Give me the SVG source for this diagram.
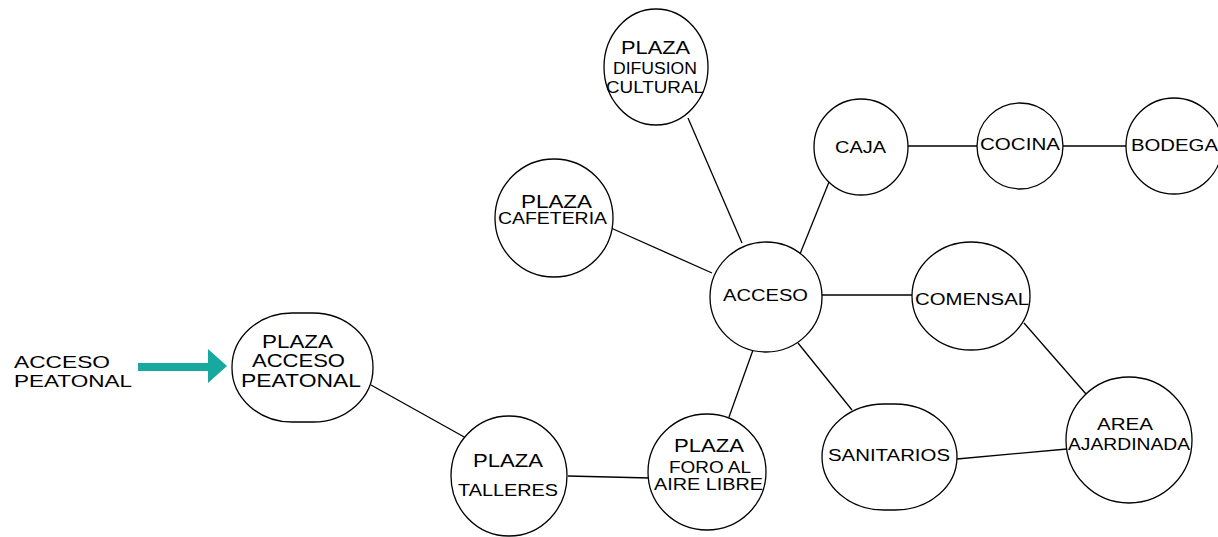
<svg xmlns="http://www.w3.org/2000/svg" width="1218" height="537" viewBox="0 0 1218 537">
<style>
.n{fill:#fff;stroke:#000;stroke-width:1.3}
.c line{stroke:#000;stroke-width:1.3}
text{font-family:"Liberation Sans",Arial,sans-serif;fill:#000;font-size:16px}
.b{font-size:18px}
</style>
<rect width="1218" height="537" fill="#fff"/>
<g class="c" id="connectors">
<line x1="688" y1="118" x2="742" y2="243"/>
<line x1="611" y1="228" x2="712" y2="273"/>
<line x1="829" y1="182" x2="800" y2="254"/>
<line x1="908" y1="146" x2="978" y2="146"/>
<line x1="1063" y1="146" x2="1126" y2="146"/>
<line x1="822" y1="295" x2="912" y2="295"/>
<line x1="1024" y1="323" x2="1086" y2="394"/>
<line x1="798" y1="343" x2="852" y2="410"/>
<line x1="957" y1="459" x2="1067" y2="449"/>
<line x1="753" y1="350" x2="729" y2="417"/>
<line x1="568" y1="476" x2="650" y2="478"/>
<line x1="371" y1="385" x2="466" y2="438"/>
</g>
<g id="acceso-peatonal-label">
<text x="14" y="368" textLength="96" lengthAdjust="spacingAndGlyphs" style="font-size:17px">ACCESO</text>
<text x="14" y="387" textLength="118" lengthAdjust="spacingAndGlyphs" style="font-size:17px">PEATONAL</text>
<path d="M138 363 H208 V349 L227 366 L208 383 V371 H138 Z" fill="#17a8a0"/>
</g>
<g id="plaza-acceso-peatonal">
<rect class="n" x="232" y="313" width="141" height="109" rx="60" ry="54"/>
<text class="b" x="262" y="348" textLength="71" lengthAdjust="spacingAndGlyphs">PLAZA</text>
<text class="b" x="252" y="367" textLength="93" lengthAdjust="spacingAndGlyphs">ACCESO</text>
<text class="b" x="241" y="387" textLength="120" lengthAdjust="spacingAndGlyphs">PEATONAL</text>
</g>
<g id="plaza-difusion">
<ellipse class="n" cx="656" cy="67" rx="52" ry="58"/>
<text class="b" x="621" y="54" textLength="69" lengthAdjust="spacingAndGlyphs">PLAZA</text>
<text x="613" y="74" textLength="84" lengthAdjust="spacingAndGlyphs">DIFUSION</text>
<text x="606" y="93" textLength="98" lengthAdjust="spacingAndGlyphs">CULTURAL</text>
</g>
<g id="plaza-cafeteria">
<ellipse class="n" cx="554" cy="218" rx="59" ry="59"/>
<text class="b" x="521" y="208" textLength="71" lengthAdjust="spacingAndGlyphs">PLAZA</text>
<text x="498" y="224" textLength="109" lengthAdjust="spacingAndGlyphs">CAFETERIA</text>
</g>
<g id="acceso">
<ellipse class="n" cx="766" cy="297" rx="56" ry="55"/>
<text x="723" y="301" textLength="85" lengthAdjust="spacingAndGlyphs">ACCESO</text>
</g>
<g id="caja">
<ellipse class="n" cx="861" cy="147" rx="47" ry="48"/>
<text x="835" y="153" textLength="51" lengthAdjust="spacingAndGlyphs">CAJA</text>
</g>
<g id="cocina">
<ellipse class="n" cx="1020" cy="146" rx="43" ry="43"/>
<text x="980" y="150" textLength="80" lengthAdjust="spacingAndGlyphs">COCINA</text>
</g>
<g id="bodega">
<ellipse class="n" cx="1174" cy="146" rx="48" ry="48"/>
<text x="1131" y="151" textLength="87" lengthAdjust="spacingAndGlyphs">BODEGA</text>
</g>
<g id="comensal">
<ellipse class="n" cx="971" cy="296" rx="59" ry="54"/>
<text x="915" y="305" textLength="114" lengthAdjust="spacingAndGlyphs">COMENSAL</text>
</g>
<g id="area-ajardinada">
<ellipse class="n" cx="1129" cy="440" rx="63" ry="63"/>
<text x="1097" y="430" textLength="56" lengthAdjust="spacingAndGlyphs">AREA</text>
<text x="1068" y="450" textLength="122" lengthAdjust="spacingAndGlyphs">AJARDINADA</text>
</g>
<g id="sanitarios">
<rect class="n" x="822" y="404" width="135" height="106" rx="62" ry="53"/>
<text x="828" y="461" textLength="122" lengthAdjust="spacingAndGlyphs">SANITARIOS</text>
</g>
<g id="plaza-talleres">
<ellipse class="n" cx="509" cy="476" rx="58" ry="60"/>
<text class="b" x="473" y="467" textLength="70" lengthAdjust="spacingAndGlyphs">PLAZA</text>
<text x="458" y="496" textLength="100" lengthAdjust="spacingAndGlyphs" style="font-size:17px">TALLERES</text>
</g>
<g id="plaza-foro">
<ellipse class="n" cx="707" cy="472" rx="59" ry="58"/>
<text class="b" x="674" y="452" textLength="70" lengthAdjust="spacingAndGlyphs">PLAZA</text>
<text x="669" y="473" textLength="82" lengthAdjust="spacingAndGlyphs">FORO AL</text>
<text x="654" y="490" textLength="109" lengthAdjust="spacingAndGlyphs">AIRE LIBRE</text>
</g>
</svg>
